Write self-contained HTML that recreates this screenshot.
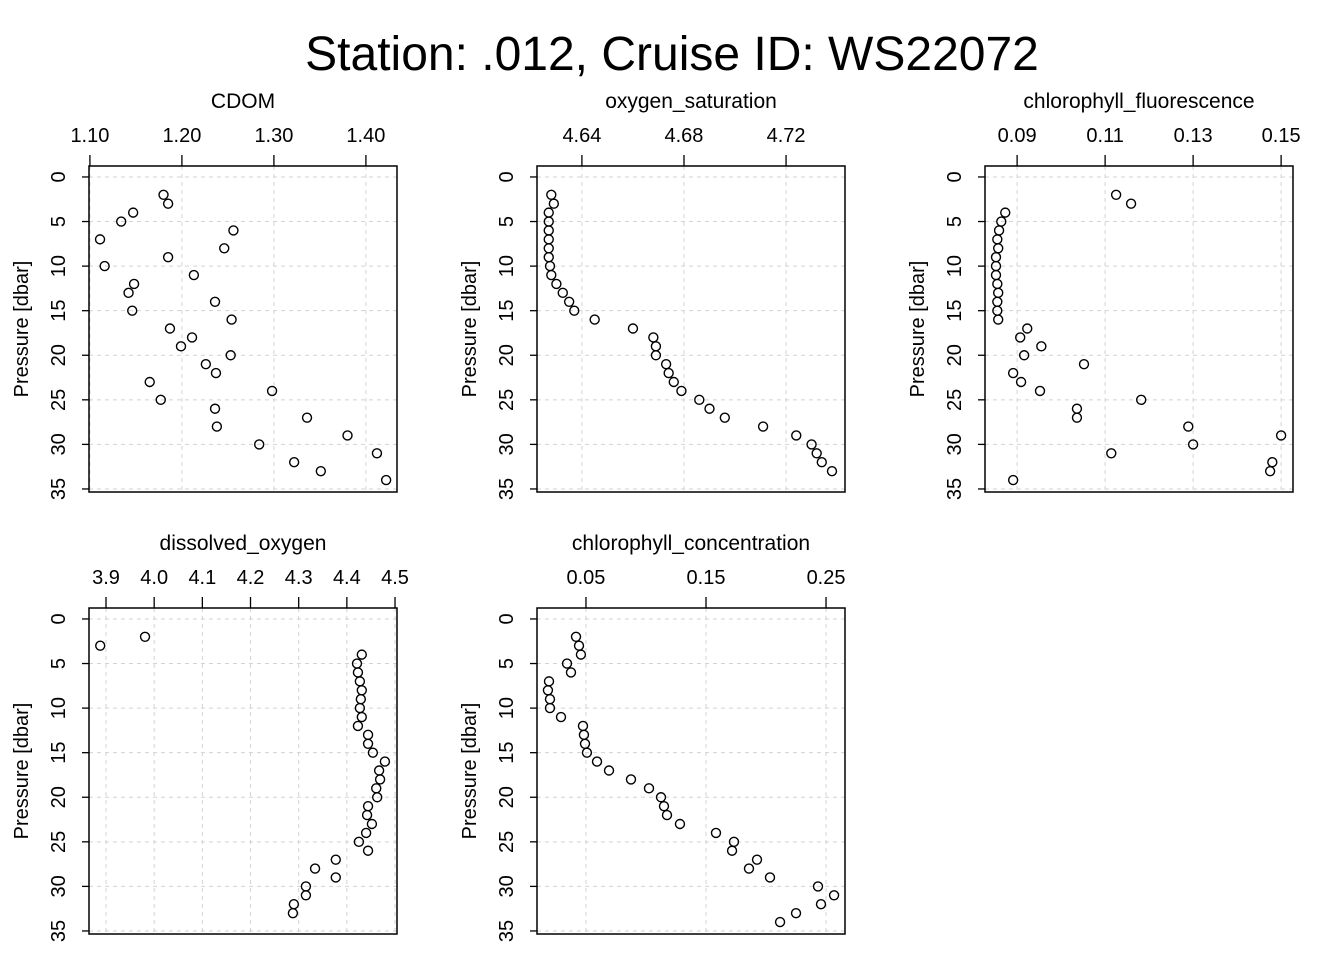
<!DOCTYPE html>
<html><head><meta charset="utf-8"><style>
body{margin:0;background:#fff;}
svg{display:block;font-family:"Liberation Sans",sans-serif;}
</style></head><body>
<svg id="chart" width="1344" height="960" viewBox="0 0 1344 960">
<text x="672" y="70" text-anchor="middle" font-size="48">Station: .012, Cruise ID: WS22072</text>
</svg>
<script>
const depthsA = [2,3,4,5,6,7,8,9,10,11,12,13,14,15,16,17,18,19,20,21,22,23,24,25,26,27,28,29,30,31,32,33,34];
const depthsB = [2,3,4,5,6,7,8,9,10,11,12,13,14,15,16,17,18,19,20,21,22,23,24,25,26,27,28,29,30,31,32,33];
const cdom = [1.180,1.185,1.147,1.134,1.256,1.111,1.246,1.185,1.116,1.213,1.148,1.142,1.236,1.146,1.254,1.187,1.211,1.199,1.253,1.226,1.237,1.165,1.298,1.177,1.236,1.336,1.238,1.380,1.284,1.412,1.322,1.351,1.422];
const oxySat = [4.628,4.629,4.627,4.627,4.627,4.627,4.627,4.627,4.6275,4.628,4.630,4.6325,4.635,4.637,4.645,4.660,4.668,4.669,4.669,4.673,4.674,4.676,4.679,4.686,4.690,4.696,4.711,4.724,4.730,4.732,4.734,4.738];
const chlFluor = [0.1125,0.1159,0.0873,0.0864,0.0859,0.0855,0.0857,0.0852,0.0852,0.0852,0.0855,0.0857,0.0855,0.0855,0.0857,0.0923,0.0907,0.0955,0.0916,0.1052,0.0891,0.0909,0.0952,0.1182,0.1036,0.1036,0.1289,0.1500,0.1300,0.1114,0.1480,0.1475,0.0891];
const dissOxy = [3.981,3.888,4.431,4.421,4.423,4.427,4.431,4.429,4.427,4.431,4.423,4.444,4.444,4.454,4.479,4.467,4.469,4.461,4.463,4.444,4.442,4.452,4.440,4.425,4.444,4.377,4.334,4.377,4.315,4.315,4.290,4.288];
const chlConc = [0.0417,0.0442,0.0458,0.0342,0.0375,0.0192,0.0183,0.0200,0.0200,0.0292,0.0475,0.0483,0.0492,0.0508,0.0592,0.0692,0.0875,0.1025,0.1125,0.1150,0.1175,0.1283,0.1583,0.1733,0.1717,0.1925,0.1858,0.2033,0.2433,0.2567,0.2458,0.2250,0.2117];
const ticksCdom = ["1.10","1.20","1.30","1.40"];
const ticksOxySat = ["4.64","4.68","4.72"];
const ticksFluor = ["0.09","0.11","0.13","0.15"];
const ticksDO = ["3.9","4.0","4.1","4.2","4.3","4.4","4.5"];
const ticksConc = ["0.05","0.15","0.25"];
const ticksY = [0,5,10,15,20,25,30,35];

const svg = document.getElementById('chart');
const NS = 'http://www.w3.org/2000/svg';
function mk(tag, attrs){const e=document.createElementNS(NS,tag);for(const k in attrs)e.setAttribute(k,attrs[k]);svg.appendChild(e);return e;}

const panels = [
 {name:'CDOM',key:'cdom',x0:89,y0:166,xd:[1.0990,1.4338],vals:cdom,depths:depthsA,ticks:ticksCdom},
 {name:'oxygen_saturation',key:'oxygen-saturation',x0:537,y0:166,xd:[4.6224,4.7431],vals:oxySat,depths:depthsB,ticks:ticksOxySat},
 {name:'chlorophyll_fluorescence',key:'chlorophyll-fluorescence',x0:985,y0:166,xd:[0.0827,0.1527],vals:chlFluor,depths:depthsA,ticks:ticksFluor},
 {name:'dissolved_oxygen',key:'dissolved-oxygen',x0:89,y0:608,xd:[3.8647,4.5041],vals:dissOxy,depths:depthsB,ticks:ticksDO},
 {name:'chlorophyll_concentration',key:'chlorophyll-concentration',x0:537,y0:608,xd:[0.0092,0.2658],vals:chlConc,depths:depthsA,ticks:ticksConc}
];
const W=308,H=326,yd=[-1.23,35.34];
panels.forEach(p=>{
  const sx=v=>p.x0+(v-p.xd[0])/(p.xd[1]-p.xd[0])*W;
  const sy=d=>p.y0+(d-yd[0])/(yd[1]-yd[0])*H;
  p.ticks.forEach(t=>{
    const x=sx(parseFloat(t));
    let l=mk('line',{x1:x,x2:x,y1:p.y0,y2:p.y0+H,stroke:'#d3d3d3','stroke-dasharray':'4,4','stroke-width':1});
    
    
    let tk=mk('line',{x1:x,x2:x,y1:p.y0,y2:p.y0-11,stroke:'#000','stroke-width':1.3});
    
    
    let tl=mk('text',{x:x,y:p.y0-24,'text-anchor':'middle','font-size':20});
    tl.textContent=t;
    
    
  });
  ticksY.forEach(t=>{
    const y=sy(t);
    let l=mk('line',{x1:p.x0,x2:p.x0+W,y1:y,y2:y,stroke:'#d3d3d3','stroke-dasharray':'4,4','stroke-width':1});
    
    
    let tk=mk('line',{x1:p.x0,x2:p.x0-7,y1:y,y2:y,stroke:'#000','stroke-width':1.3});
    
    
    let tl=mk('text',{x:p.x0-24,y:y,'text-anchor':'middle','font-size':20,transform:`rotate(-90 ${p.x0-24} ${y})`});
    tl.textContent=t;
    
    
  });
  let box=mk('rect',{x:p.x0,y:p.y0,width:W,height:H,fill:'none',stroke:'#000','stroke-width':1.5});
  
  
  let title=mk('text',{x:p.x0+W/2,y:p.y0-58,'text-anchor':'middle','font-size':21});
  title.textContent=p.name;
  
  
  const yl=p.y0+H/2, xl=p.x0-61;
  let ylab=mk('text',{x:xl,y:yl,'text-anchor':'middle','font-size':20,transform:`rotate(-90 ${xl} ${yl})`});
  ylab.textContent='Pressure [dbar]';
  
  
  p.vals.forEach((v,i)=>{
    const c=mk('circle',{cx:sx(v),cy:sy(p.depths[i]),r:4.5,fill:'none',stroke:'#000','stroke-width':1.4});
    
    
  });
});
</script>
</body></html>
